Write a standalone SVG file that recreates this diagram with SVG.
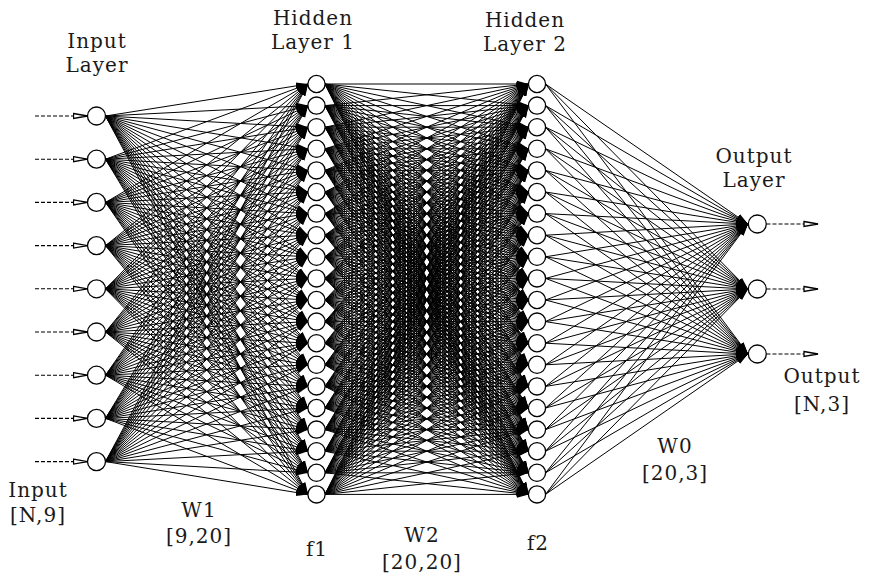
<svg xmlns="http://www.w3.org/2000/svg" width="870" height="575" viewBox="0 0 870 575">
<style>
.t{font-family:"DejaVu Serif","Liberation Serif",serif;font-size:20px;letter-spacing:1px;text-anchor:middle;fill:#1a1a1a}
.e path{fill:none;stroke:#000;stroke-width:1;marker-end:url(#ah)}
.d line{stroke:#000;stroke-width:1.1;stroke-dasharray:4 2;marker-end:url(#oa)}
.n circle{fill:#fff;stroke:#000;stroke-width:1.3}
</style>
<defs>
<marker id="ah" markerUnits="userSpaceOnUse" viewBox="0 0 13 9" markerWidth="13" markerHeight="9" refX="12" refY="4.5" orient="auto"><path d="M0 1L12 4.5L0 8z" fill="#000"/></marker>
<marker id="oa" markerUnits="userSpaceOnUse" viewBox="0 0 16 8" markerWidth="16" markerHeight="8" refX="15" refY="4" orient="auto"><path d="M1 1.5L15 4L1 6.5z" fill="#fff" stroke="#000" stroke-width="1.3"/></marker>
</defs>
<rect width="870" height="575" fill="#fff"/>
<g id="connectors">
<g class="e" id="w1">
<path d="M105.5 116L308 84"/><path d="M105.5 116L308 105.6"/><path d="M105.5 116L308 127.2"/><path d="M105.5 116L308 148.8"/><path d="M105.5 116L308 170.4"/><path d="M105.5 116L308 192"/><path d="M105.5 116L308 213.6"/><path d="M105.5 116L308 235.2"/><path d="M105.5 116L308 256.8"/><path d="M105.5 116L308 278.4"/><path d="M105.5 116L308 300"/><path d="M105.5 116L308 321.6"/><path d="M105.5 116L308 343.2"/><path d="M105.5 116L308 364.8"/><path d="M105.5 116L308 386.4"/><path d="M105.5 116L308 408"/><path d="M105.5 116L308 429.6"/><path d="M105.5 116L308 451.2"/><path d="M105.5 116L308 472.8"/><path d="M105.5 116L308 494.4"/>
<path d="M105.5 159.2L308 84"/><path d="M105.5 159.2L308 105.6"/><path d="M105.5 159.2L308 127.2"/><path d="M105.5 159.2L308 148.8"/><path d="M105.5 159.2L308 170.4"/><path d="M105.5 159.2L308 192"/><path d="M105.5 159.2L308 213.6"/><path d="M105.5 159.2L308 235.2"/><path d="M105.5 159.2L308 256.8"/><path d="M105.5 159.2L308 278.4"/><path d="M105.5 159.2L308 300"/><path d="M105.5 159.2L308 321.6"/><path d="M105.5 159.2L308 343.2"/><path d="M105.5 159.2L308 364.8"/><path d="M105.5 159.2L308 386.4"/><path d="M105.5 159.2L308 408"/><path d="M105.5 159.2L308 429.6"/><path d="M105.5 159.2L308 451.2"/><path d="M105.5 159.2L308 472.8"/><path d="M105.5 159.2L308 494.4"/>
<path d="M105.5 202.4L308 84"/><path d="M105.5 202.4L308 105.6"/><path d="M105.5 202.4L308 127.2"/><path d="M105.5 202.4L308 148.8"/><path d="M105.5 202.4L308 170.4"/><path d="M105.5 202.4L308 192"/><path d="M105.5 202.4L308 213.6"/><path d="M105.5 202.4L308 235.2"/><path d="M105.5 202.4L308 256.8"/><path d="M105.5 202.4L308 278.4"/><path d="M105.5 202.4L308 300"/><path d="M105.5 202.4L308 321.6"/><path d="M105.5 202.4L308 343.2"/><path d="M105.5 202.4L308 364.8"/><path d="M105.5 202.4L308 386.4"/><path d="M105.5 202.4L308 408"/><path d="M105.5 202.4L308 429.6"/><path d="M105.5 202.4L308 451.2"/><path d="M105.5 202.4L308 472.8"/><path d="M105.5 202.4L308 494.4"/>
<path d="M105.5 245.6L308 84"/><path d="M105.5 245.6L308 105.6"/><path d="M105.5 245.6L308 127.2"/><path d="M105.5 245.6L308 148.8"/><path d="M105.5 245.6L308 170.4"/><path d="M105.5 245.6L308 192"/><path d="M105.5 245.6L308 213.6"/><path d="M105.5 245.6L308 235.2"/><path d="M105.5 245.6L308 256.8"/><path d="M105.5 245.6L308 278.4"/><path d="M105.5 245.6L308 300"/><path d="M105.5 245.6L308 321.6"/><path d="M105.5 245.6L308 343.2"/><path d="M105.5 245.6L308 364.8"/><path d="M105.5 245.6L308 386.4"/><path d="M105.5 245.6L308 408"/><path d="M105.5 245.6L308 429.6"/><path d="M105.5 245.6L308 451.2"/><path d="M105.5 245.6L308 472.8"/><path d="M105.5 245.6L308 494.4"/>
<path d="M105.5 288.8L308 84"/><path d="M105.5 288.8L308 105.6"/><path d="M105.5 288.8L308 127.2"/><path d="M105.5 288.8L308 148.8"/><path d="M105.5 288.8L308 170.4"/><path d="M105.5 288.8L308 192"/><path d="M105.5 288.8L308 213.6"/><path d="M105.5 288.8L308 235.2"/><path d="M105.5 288.8L308 256.8"/><path d="M105.5 288.8L308 278.4"/><path d="M105.5 288.8L308 300"/><path d="M105.5 288.8L308 321.6"/><path d="M105.5 288.8L308 343.2"/><path d="M105.5 288.8L308 364.8"/><path d="M105.5 288.8L308 386.4"/><path d="M105.5 288.8L308 408"/><path d="M105.5 288.8L308 429.6"/><path d="M105.5 288.8L308 451.2"/><path d="M105.5 288.8L308 472.8"/><path d="M105.5 288.8L308 494.4"/>
<path d="M105.5 332L308 84"/><path d="M105.5 332L308 105.6"/><path d="M105.5 332L308 127.2"/><path d="M105.5 332L308 148.8"/><path d="M105.5 332L308 170.4"/><path d="M105.5 332L308 192"/><path d="M105.5 332L308 213.6"/><path d="M105.5 332L308 235.2"/><path d="M105.5 332L308 256.8"/><path d="M105.5 332L308 278.4"/><path d="M105.5 332L308 300"/><path d="M105.5 332L308 321.6"/><path d="M105.5 332L308 343.2"/><path d="M105.5 332L308 364.8"/><path d="M105.5 332L308 386.4"/><path d="M105.5 332L308 408"/><path d="M105.5 332L308 429.6"/><path d="M105.5 332L308 451.2"/><path d="M105.5 332L308 472.8"/><path d="M105.5 332L308 494.4"/>
<path d="M105.5 375.2L308 84"/><path d="M105.5 375.2L308 105.6"/><path d="M105.5 375.2L308 127.2"/><path d="M105.5 375.2L308 148.8"/><path d="M105.5 375.2L308 170.4"/><path d="M105.5 375.2L308 192"/><path d="M105.5 375.2L308 213.6"/><path d="M105.5 375.2L308 235.2"/><path d="M105.5 375.2L308 256.8"/><path d="M105.5 375.2L308 278.4"/><path d="M105.5 375.2L308 300"/><path d="M105.5 375.2L308 321.6"/><path d="M105.5 375.2L308 343.2"/><path d="M105.5 375.2L308 364.8"/><path d="M105.5 375.2L308 386.4"/><path d="M105.5 375.2L308 408"/><path d="M105.5 375.2L308 429.6"/><path d="M105.5 375.2L308 451.2"/><path d="M105.5 375.2L308 472.8"/><path d="M105.5 375.2L308 494.4"/>
<path d="M105.5 418.4L308 84"/><path d="M105.5 418.4L308 105.6"/><path d="M105.5 418.4L308 127.2"/><path d="M105.5 418.4L308 148.8"/><path d="M105.5 418.4L308 170.4"/><path d="M105.5 418.4L308 192"/><path d="M105.5 418.4L308 213.6"/><path d="M105.5 418.4L308 235.2"/><path d="M105.5 418.4L308 256.8"/><path d="M105.5 418.4L308 278.4"/><path d="M105.5 418.4L308 300"/><path d="M105.5 418.4L308 321.6"/><path d="M105.5 418.4L308 343.2"/><path d="M105.5 418.4L308 364.8"/><path d="M105.5 418.4L308 386.4"/><path d="M105.5 418.4L308 408"/><path d="M105.5 418.4L308 429.6"/><path d="M105.5 418.4L308 451.2"/><path d="M105.5 418.4L308 472.8"/><path d="M105.5 418.4L308 494.4"/>
<path d="M105.5 461.6L308 84"/><path d="M105.5 461.6L308 105.6"/><path d="M105.5 461.6L308 127.2"/><path d="M105.5 461.6L308 148.8"/><path d="M105.5 461.6L308 170.4"/><path d="M105.5 461.6L308 192"/><path d="M105.5 461.6L308 213.6"/><path d="M105.5 461.6L308 235.2"/><path d="M105.5 461.6L308 256.8"/><path d="M105.5 461.6L308 278.4"/><path d="M105.5 461.6L308 300"/><path d="M105.5 461.6L308 321.6"/><path d="M105.5 461.6L308 343.2"/><path d="M105.5 461.6L308 364.8"/><path d="M105.5 461.6L308 386.4"/><path d="M105.5 461.6L308 408"/><path d="M105.5 461.6L308 429.6"/><path d="M105.5 461.6L308 451.2"/><path d="M105.5 461.6L308 472.8"/><path d="M105.5 461.6L308 494.4"/>
</g>
<g class="e" id="w2">
<path d="M325 84L528.5 84"/><path d="M325 84L528.5 105.6"/><path d="M325 84L528.5 127.2"/><path d="M325 84L528.5 148.8"/><path d="M325 84L528.5 170.4"/><path d="M325 84L528.5 192"/><path d="M325 84L528.5 213.6"/><path d="M325 84L528.5 235.2"/><path d="M325 84L528.5 256.8"/><path d="M325 84L528.5 278.4"/><path d="M325 84L528.5 300"/><path d="M325 84L528.5 321.6"/><path d="M325 84L528.5 343.2"/><path d="M325 84L528.5 364.8"/><path d="M325 84L528.5 386.4"/><path d="M325 84L528.5 408"/><path d="M325 84L528.5 429.6"/><path d="M325 84L528.5 451.2"/><path d="M325 84L528.5 472.8"/><path d="M325 84L528.5 494.4"/>
<path d="M325 105.6L528.5 84"/><path d="M325 105.6L528.5 105.6"/><path d="M325 105.6L528.5 127.2"/><path d="M325 105.6L528.5 148.8"/><path d="M325 105.6L528.5 170.4"/><path d="M325 105.6L528.5 192"/><path d="M325 105.6L528.5 213.6"/><path d="M325 105.6L528.5 235.2"/><path d="M325 105.6L528.5 256.8"/><path d="M325 105.6L528.5 278.4"/><path d="M325 105.6L528.5 300"/><path d="M325 105.6L528.5 321.6"/><path d="M325 105.6L528.5 343.2"/><path d="M325 105.6L528.5 364.8"/><path d="M325 105.6L528.5 386.4"/><path d="M325 105.6L528.5 408"/><path d="M325 105.6L528.5 429.6"/><path d="M325 105.6L528.5 451.2"/><path d="M325 105.6L528.5 472.8"/><path d="M325 105.6L528.5 494.4"/>
<path d="M325 127.2L528.5 84"/><path d="M325 127.2L528.5 105.6"/><path d="M325 127.2L528.5 127.2"/><path d="M325 127.2L528.5 148.8"/><path d="M325 127.2L528.5 170.4"/><path d="M325 127.2L528.5 192"/><path d="M325 127.2L528.5 213.6"/><path d="M325 127.2L528.5 235.2"/><path d="M325 127.2L528.5 256.8"/><path d="M325 127.2L528.5 278.4"/><path d="M325 127.2L528.5 300"/><path d="M325 127.2L528.5 321.6"/><path d="M325 127.2L528.5 343.2"/><path d="M325 127.2L528.5 364.8"/><path d="M325 127.2L528.5 386.4"/><path d="M325 127.2L528.5 408"/><path d="M325 127.2L528.5 429.6"/><path d="M325 127.2L528.5 451.2"/><path d="M325 127.2L528.5 472.8"/><path d="M325 127.2L528.5 494.4"/>
<path d="M325 148.8L528.5 84"/><path d="M325 148.8L528.5 105.6"/><path d="M325 148.8L528.5 127.2"/><path d="M325 148.8L528.5 148.8"/><path d="M325 148.8L528.5 170.4"/><path d="M325 148.8L528.5 192"/><path d="M325 148.8L528.5 213.6"/><path d="M325 148.8L528.5 235.2"/><path d="M325 148.8L528.5 256.8"/><path d="M325 148.8L528.5 278.4"/><path d="M325 148.8L528.5 300"/><path d="M325 148.8L528.5 321.6"/><path d="M325 148.8L528.5 343.2"/><path d="M325 148.8L528.5 364.8"/><path d="M325 148.8L528.5 386.4"/><path d="M325 148.8L528.5 408"/><path d="M325 148.8L528.5 429.6"/><path d="M325 148.8L528.5 451.2"/><path d="M325 148.8L528.5 472.8"/><path d="M325 148.8L528.5 494.4"/>
<path d="M325 170.4L528.5 84"/><path d="M325 170.4L528.5 105.6"/><path d="M325 170.4L528.5 127.2"/><path d="M325 170.4L528.5 148.8"/><path d="M325 170.4L528.5 170.4"/><path d="M325 170.4L528.5 192"/><path d="M325 170.4L528.5 213.6"/><path d="M325 170.4L528.5 235.2"/><path d="M325 170.4L528.5 256.8"/><path d="M325 170.4L528.5 278.4"/><path d="M325 170.4L528.5 300"/><path d="M325 170.4L528.5 321.6"/><path d="M325 170.4L528.5 343.2"/><path d="M325 170.4L528.5 364.8"/><path d="M325 170.4L528.5 386.4"/><path d="M325 170.4L528.5 408"/><path d="M325 170.4L528.5 429.6"/><path d="M325 170.4L528.5 451.2"/><path d="M325 170.4L528.5 472.8"/><path d="M325 170.4L528.5 494.4"/>
<path d="M325 192L528.5 84"/><path d="M325 192L528.5 105.6"/><path d="M325 192L528.5 127.2"/><path d="M325 192L528.5 148.8"/><path d="M325 192L528.5 170.4"/><path d="M325 192L528.5 192"/><path d="M325 192L528.5 213.6"/><path d="M325 192L528.5 235.2"/><path d="M325 192L528.5 256.8"/><path d="M325 192L528.5 278.4"/><path d="M325 192L528.5 300"/><path d="M325 192L528.5 321.6"/><path d="M325 192L528.5 343.2"/><path d="M325 192L528.5 364.8"/><path d="M325 192L528.5 386.4"/><path d="M325 192L528.5 408"/><path d="M325 192L528.5 429.6"/><path d="M325 192L528.5 451.2"/><path d="M325 192L528.5 472.8"/><path d="M325 192L528.5 494.4"/>
<path d="M325 213.6L528.5 84"/><path d="M325 213.6L528.5 105.6"/><path d="M325 213.6L528.5 127.2"/><path d="M325 213.6L528.5 148.8"/><path d="M325 213.6L528.5 170.4"/><path d="M325 213.6L528.5 192"/><path d="M325 213.6L528.5 213.6"/><path d="M325 213.6L528.5 235.2"/><path d="M325 213.6L528.5 256.8"/><path d="M325 213.6L528.5 278.4"/><path d="M325 213.6L528.5 300"/><path d="M325 213.6L528.5 321.6"/><path d="M325 213.6L528.5 343.2"/><path d="M325 213.6L528.5 364.8"/><path d="M325 213.6L528.5 386.4"/><path d="M325 213.6L528.5 408"/><path d="M325 213.6L528.5 429.6"/><path d="M325 213.6L528.5 451.2"/><path d="M325 213.6L528.5 472.8"/><path d="M325 213.6L528.5 494.4"/>
<path d="M325 235.2L528.5 84"/><path d="M325 235.2L528.5 105.6"/><path d="M325 235.2L528.5 127.2"/><path d="M325 235.2L528.5 148.8"/><path d="M325 235.2L528.5 170.4"/><path d="M325 235.2L528.5 192"/><path d="M325 235.2L528.5 213.6"/><path d="M325 235.2L528.5 235.2"/><path d="M325 235.2L528.5 256.8"/><path d="M325 235.2L528.5 278.4"/><path d="M325 235.2L528.5 300"/><path d="M325 235.2L528.5 321.6"/><path d="M325 235.2L528.5 343.2"/><path d="M325 235.2L528.5 364.8"/><path d="M325 235.2L528.5 386.4"/><path d="M325 235.2L528.5 408"/><path d="M325 235.2L528.5 429.6"/><path d="M325 235.2L528.5 451.2"/><path d="M325 235.2L528.5 472.8"/><path d="M325 235.2L528.5 494.4"/>
<path d="M325 256.8L528.5 84"/><path d="M325 256.8L528.5 105.6"/><path d="M325 256.8L528.5 127.2"/><path d="M325 256.8L528.5 148.8"/><path d="M325 256.8L528.5 170.4"/><path d="M325 256.8L528.5 192"/><path d="M325 256.8L528.5 213.6"/><path d="M325 256.8L528.5 235.2"/><path d="M325 256.8L528.5 256.8"/><path d="M325 256.8L528.5 278.4"/><path d="M325 256.8L528.5 300"/><path d="M325 256.8L528.5 321.6"/><path d="M325 256.8L528.5 343.2"/><path d="M325 256.8L528.5 364.8"/><path d="M325 256.8L528.5 386.4"/><path d="M325 256.8L528.5 408"/><path d="M325 256.8L528.5 429.6"/><path d="M325 256.8L528.5 451.2"/><path d="M325 256.8L528.5 472.8"/><path d="M325 256.8L528.5 494.4"/>
<path d="M325 278.4L528.5 84"/><path d="M325 278.4L528.5 105.6"/><path d="M325 278.4L528.5 127.2"/><path d="M325 278.4L528.5 148.8"/><path d="M325 278.4L528.5 170.4"/><path d="M325 278.4L528.5 192"/><path d="M325 278.4L528.5 213.6"/><path d="M325 278.4L528.5 235.2"/><path d="M325 278.4L528.5 256.8"/><path d="M325 278.4L528.5 278.4"/><path d="M325 278.4L528.5 300"/><path d="M325 278.4L528.5 321.6"/><path d="M325 278.4L528.5 343.2"/><path d="M325 278.4L528.5 364.8"/><path d="M325 278.4L528.5 386.4"/><path d="M325 278.4L528.5 408"/><path d="M325 278.4L528.5 429.6"/><path d="M325 278.4L528.5 451.2"/><path d="M325 278.4L528.5 472.8"/><path d="M325 278.4L528.5 494.4"/>
<path d="M325 300L528.5 84"/><path d="M325 300L528.5 105.6"/><path d="M325 300L528.5 127.2"/><path d="M325 300L528.5 148.8"/><path d="M325 300L528.5 170.4"/><path d="M325 300L528.5 192"/><path d="M325 300L528.5 213.6"/><path d="M325 300L528.5 235.2"/><path d="M325 300L528.5 256.8"/><path d="M325 300L528.5 278.4"/><path d="M325 300L528.5 300"/><path d="M325 300L528.5 321.6"/><path d="M325 300L528.5 343.2"/><path d="M325 300L528.5 364.8"/><path d="M325 300L528.5 386.4"/><path d="M325 300L528.5 408"/><path d="M325 300L528.5 429.6"/><path d="M325 300L528.5 451.2"/><path d="M325 300L528.5 472.8"/><path d="M325 300L528.5 494.4"/>
<path d="M325 321.6L528.5 84"/><path d="M325 321.6L528.5 105.6"/><path d="M325 321.6L528.5 127.2"/><path d="M325 321.6L528.5 148.8"/><path d="M325 321.6L528.5 170.4"/><path d="M325 321.6L528.5 192"/><path d="M325 321.6L528.5 213.6"/><path d="M325 321.6L528.5 235.2"/><path d="M325 321.6L528.5 256.8"/><path d="M325 321.6L528.5 278.4"/><path d="M325 321.6L528.5 300"/><path d="M325 321.6L528.5 321.6"/><path d="M325 321.6L528.5 343.2"/><path d="M325 321.6L528.5 364.8"/><path d="M325 321.6L528.5 386.4"/><path d="M325 321.6L528.5 408"/><path d="M325 321.6L528.5 429.6"/><path d="M325 321.6L528.5 451.2"/><path d="M325 321.6L528.5 472.8"/><path d="M325 321.6L528.5 494.4"/>
<path d="M325 343.2L528.5 84"/><path d="M325 343.2L528.5 105.6"/><path d="M325 343.2L528.5 127.2"/><path d="M325 343.2L528.5 148.8"/><path d="M325 343.2L528.5 170.4"/><path d="M325 343.2L528.5 192"/><path d="M325 343.2L528.5 213.6"/><path d="M325 343.2L528.5 235.2"/><path d="M325 343.2L528.5 256.8"/><path d="M325 343.2L528.5 278.4"/><path d="M325 343.2L528.5 300"/><path d="M325 343.2L528.5 321.6"/><path d="M325 343.2L528.5 343.2"/><path d="M325 343.2L528.5 364.8"/><path d="M325 343.2L528.5 386.4"/><path d="M325 343.2L528.5 408"/><path d="M325 343.2L528.5 429.6"/><path d="M325 343.2L528.5 451.2"/><path d="M325 343.2L528.5 472.8"/><path d="M325 343.2L528.5 494.4"/>
<path d="M325 364.8L528.5 84"/><path d="M325 364.8L528.5 105.6"/><path d="M325 364.8L528.5 127.2"/><path d="M325 364.8L528.5 148.8"/><path d="M325 364.8L528.5 170.4"/><path d="M325 364.8L528.5 192"/><path d="M325 364.8L528.5 213.6"/><path d="M325 364.8L528.5 235.2"/><path d="M325 364.8L528.5 256.8"/><path d="M325 364.8L528.5 278.4"/><path d="M325 364.8L528.5 300"/><path d="M325 364.8L528.5 321.6"/><path d="M325 364.8L528.5 343.2"/><path d="M325 364.8L528.5 364.8"/><path d="M325 364.8L528.5 386.4"/><path d="M325 364.8L528.5 408"/><path d="M325 364.8L528.5 429.6"/><path d="M325 364.8L528.5 451.2"/><path d="M325 364.8L528.5 472.8"/><path d="M325 364.8L528.5 494.4"/>
<path d="M325 386.4L528.5 84"/><path d="M325 386.4L528.5 105.6"/><path d="M325 386.4L528.5 127.2"/><path d="M325 386.4L528.5 148.8"/><path d="M325 386.4L528.5 170.4"/><path d="M325 386.4L528.5 192"/><path d="M325 386.4L528.5 213.6"/><path d="M325 386.4L528.5 235.2"/><path d="M325 386.4L528.5 256.8"/><path d="M325 386.4L528.5 278.4"/><path d="M325 386.4L528.5 300"/><path d="M325 386.4L528.5 321.6"/><path d="M325 386.4L528.5 343.2"/><path d="M325 386.4L528.5 364.8"/><path d="M325 386.4L528.5 386.4"/><path d="M325 386.4L528.5 408"/><path d="M325 386.4L528.5 429.6"/><path d="M325 386.4L528.5 451.2"/><path d="M325 386.4L528.5 472.8"/><path d="M325 386.4L528.5 494.4"/>
<path d="M325 408L528.5 84"/><path d="M325 408L528.5 105.6"/><path d="M325 408L528.5 127.2"/><path d="M325 408L528.5 148.8"/><path d="M325 408L528.5 170.4"/><path d="M325 408L528.5 192"/><path d="M325 408L528.5 213.6"/><path d="M325 408L528.5 235.2"/><path d="M325 408L528.5 256.8"/><path d="M325 408L528.5 278.4"/><path d="M325 408L528.5 300"/><path d="M325 408L528.5 321.6"/><path d="M325 408L528.5 343.2"/><path d="M325 408L528.5 364.8"/><path d="M325 408L528.5 386.4"/><path d="M325 408L528.5 408"/><path d="M325 408L528.5 429.6"/><path d="M325 408L528.5 451.2"/><path d="M325 408L528.5 472.8"/><path d="M325 408L528.5 494.4"/>
<path d="M325 429.6L528.5 84"/><path d="M325 429.6L528.5 105.6"/><path d="M325 429.6L528.5 127.2"/><path d="M325 429.6L528.5 148.8"/><path d="M325 429.6L528.5 170.4"/><path d="M325 429.6L528.5 192"/><path d="M325 429.6L528.5 213.6"/><path d="M325 429.6L528.5 235.2"/><path d="M325 429.6L528.5 256.8"/><path d="M325 429.6L528.5 278.4"/><path d="M325 429.6L528.5 300"/><path d="M325 429.6L528.5 321.6"/><path d="M325 429.6L528.5 343.2"/><path d="M325 429.6L528.5 364.8"/><path d="M325 429.6L528.5 386.4"/><path d="M325 429.6L528.5 408"/><path d="M325 429.6L528.5 429.6"/><path d="M325 429.6L528.5 451.2"/><path d="M325 429.6L528.5 472.8"/><path d="M325 429.6L528.5 494.4"/>
<path d="M325 451.2L528.5 84"/><path d="M325 451.2L528.5 105.6"/><path d="M325 451.2L528.5 127.2"/><path d="M325 451.2L528.5 148.8"/><path d="M325 451.2L528.5 170.4"/><path d="M325 451.2L528.5 192"/><path d="M325 451.2L528.5 213.6"/><path d="M325 451.2L528.5 235.2"/><path d="M325 451.2L528.5 256.8"/><path d="M325 451.2L528.5 278.4"/><path d="M325 451.2L528.5 300"/><path d="M325 451.2L528.5 321.6"/><path d="M325 451.2L528.5 343.2"/><path d="M325 451.2L528.5 364.8"/><path d="M325 451.2L528.5 386.4"/><path d="M325 451.2L528.5 408"/><path d="M325 451.2L528.5 429.6"/><path d="M325 451.2L528.5 451.2"/><path d="M325 451.2L528.5 472.8"/><path d="M325 451.2L528.5 494.4"/>
<path d="M325 472.8L528.5 84"/><path d="M325 472.8L528.5 105.6"/><path d="M325 472.8L528.5 127.2"/><path d="M325 472.8L528.5 148.8"/><path d="M325 472.8L528.5 170.4"/><path d="M325 472.8L528.5 192"/><path d="M325 472.8L528.5 213.6"/><path d="M325 472.8L528.5 235.2"/><path d="M325 472.8L528.5 256.8"/><path d="M325 472.8L528.5 278.4"/><path d="M325 472.8L528.5 300"/><path d="M325 472.8L528.5 321.6"/><path d="M325 472.8L528.5 343.2"/><path d="M325 472.8L528.5 364.8"/><path d="M325 472.8L528.5 386.4"/><path d="M325 472.8L528.5 408"/><path d="M325 472.8L528.5 429.6"/><path d="M325 472.8L528.5 451.2"/><path d="M325 472.8L528.5 472.8"/><path d="M325 472.8L528.5 494.4"/>
<path d="M325 494.4L528.5 84"/><path d="M325 494.4L528.5 105.6"/><path d="M325 494.4L528.5 127.2"/><path d="M325 494.4L528.5 148.8"/><path d="M325 494.4L528.5 170.4"/><path d="M325 494.4L528.5 192"/><path d="M325 494.4L528.5 213.6"/><path d="M325 494.4L528.5 235.2"/><path d="M325 494.4L528.5 256.8"/><path d="M325 494.4L528.5 278.4"/><path d="M325 494.4L528.5 300"/><path d="M325 494.4L528.5 321.6"/><path d="M325 494.4L528.5 343.2"/><path d="M325 494.4L528.5 364.8"/><path d="M325 494.4L528.5 386.4"/><path d="M325 494.4L528.5 408"/><path d="M325 494.4L528.5 429.6"/><path d="M325 494.4L528.5 451.2"/><path d="M325 494.4L528.5 472.8"/><path d="M325 494.4L528.5 494.4"/>
</g>
<g class="e" id="w0">
<path d="M545.5 84L748 224"/><path d="M545.5 84L748 289"/><path d="M545.5 84L748 354"/>
<path d="M545.5 105.6L748 224"/><path d="M545.5 105.6L748 289"/><path d="M545.5 105.6L748 354"/>
<path d="M545.5 127.2L748 224"/><path d="M545.5 127.2L748 289"/><path d="M545.5 127.2L748 354"/>
<path d="M545.5 148.8L748 224"/><path d="M545.5 148.8L748 289"/><path d="M545.5 148.8L748 354"/>
<path d="M545.5 170.4L748 224"/><path d="M545.5 170.4L748 289"/><path d="M545.5 170.4L748 354"/>
<path d="M545.5 192L748 224"/><path d="M545.5 192L748 289"/><path d="M545.5 192L748 354"/>
<path d="M545.5 213.6L748 224"/><path d="M545.5 213.6L748 289"/><path d="M545.5 213.6L748 354"/>
<path d="M545.5 235.2L748 224"/><path d="M545.5 235.2L748 289"/><path d="M545.5 235.2L748 354"/>
<path d="M545.5 256.8L748 224"/><path d="M545.5 256.8L748 289"/><path d="M545.5 256.8L748 354"/>
<path d="M545.5 278.4L748 224"/><path d="M545.5 278.4L748 289"/><path d="M545.5 278.4L748 354"/>
<path d="M545.5 300L748 224"/><path d="M545.5 300L748 289"/><path d="M545.5 300L748 354"/>
<path d="M545.5 321.6L748 224"/><path d="M545.5 321.6L748 289"/><path d="M545.5 321.6L748 354"/>
<path d="M545.5 343.2L748 224"/><path d="M545.5 343.2L748 289"/><path d="M545.5 343.2L748 354"/>
<path d="M545.5 364.8L748 224"/><path d="M545.5 364.8L748 289"/><path d="M545.5 364.8L748 354"/>
<path d="M545.5 386.4L748 224"/><path d="M545.5 386.4L748 289"/><path d="M545.5 386.4L748 354"/>
<path d="M545.5 408L748 224"/><path d="M545.5 408L748 289"/><path d="M545.5 408L748 354"/>
<path d="M545.5 429.6L748 224"/><path d="M545.5 429.6L748 289"/><path d="M545.5 429.6L748 354"/>
<path d="M545.5 451.2L748 224"/><path d="M545.5 451.2L748 289"/><path d="M545.5 451.2L748 354"/>
<path d="M545.5 472.8L748 224"/><path d="M545.5 472.8L748 289"/><path d="M545.5 472.8L748 354"/>
<path d="M545.5 494.4L748 224"/><path d="M545.5 494.4L748 289"/><path d="M545.5 494.4L748 354"/>
</g>
<g class="d" id="io">
<line x1="35" y1="116" x2="87.5" y2="116"/><line x1="35" y1="159.2" x2="87.5" y2="159.2"/><line x1="35" y1="202.4" x2="87.5" y2="202.4"/><line x1="35" y1="245.6" x2="87.5" y2="245.6"/><line x1="35" y1="288.8" x2="87.5" y2="288.8"/><line x1="35" y1="332" x2="87.5" y2="332"/><line x1="35" y1="375.2" x2="87.5" y2="375.2"/><line x1="35" y1="418.4" x2="87.5" y2="418.4"/><line x1="35" y1="461.6" x2="87.5" y2="461.6"/>
<line x1="766.5" y1="224" x2="818" y2="224"/><line x1="766.5" y1="289" x2="818" y2="289"/><line x1="766.5" y1="354" x2="818" y2="354"/>
</g>
</g>
<g class="n" id="input-layer">
<circle cx="96.5" cy="116" r="9"/><circle cx="96.5" cy="159.2" r="9"/><circle cx="96.5" cy="202.4" r="9"/><circle cx="96.5" cy="245.6" r="9"/><circle cx="96.5" cy="288.8" r="9"/><circle cx="96.5" cy="332" r="9"/><circle cx="96.5" cy="375.2" r="9"/><circle cx="96.5" cy="418.4" r="9"/><circle cx="96.5" cy="461.6" r="9"/>
</g>
<g class="n" id="hidden-layer-1">
<circle cx="316.5" cy="84" r="8.6"/><circle cx="316.5" cy="105.6" r="8.6"/><circle cx="316.5" cy="127.2" r="8.6"/><circle cx="316.5" cy="148.8" r="8.6"/><circle cx="316.5" cy="170.4" r="8.6"/><circle cx="316.5" cy="192" r="8.6"/><circle cx="316.5" cy="213.6" r="8.6"/><circle cx="316.5" cy="235.2" r="8.6"/><circle cx="316.5" cy="256.8" r="8.6"/><circle cx="316.5" cy="278.4" r="8.6"/><circle cx="316.5" cy="300" r="8.6"/><circle cx="316.5" cy="321.6" r="8.6"/><circle cx="316.5" cy="343.2" r="8.6"/><circle cx="316.5" cy="364.8" r="8.6"/><circle cx="316.5" cy="386.4" r="8.6"/><circle cx="316.5" cy="408" r="8.6"/><circle cx="316.5" cy="429.6" r="8.6"/><circle cx="316.5" cy="451.2" r="8.6"/><circle cx="316.5" cy="472.8" r="8.6"/><circle cx="316.5" cy="494.4" r="8.6"/>
</g>
<g class="n" id="hidden-layer-2">
<circle cx="537" cy="84" r="8.6"/><circle cx="537" cy="105.6" r="8.6"/><circle cx="537" cy="127.2" r="8.6"/><circle cx="537" cy="148.8" r="8.6"/><circle cx="537" cy="170.4" r="8.6"/><circle cx="537" cy="192" r="8.6"/><circle cx="537" cy="213.6" r="8.6"/><circle cx="537" cy="235.2" r="8.6"/><circle cx="537" cy="256.8" r="8.6"/><circle cx="537" cy="278.4" r="8.6"/><circle cx="537" cy="300" r="8.6"/><circle cx="537" cy="321.6" r="8.6"/><circle cx="537" cy="343.2" r="8.6"/><circle cx="537" cy="364.8" r="8.6"/><circle cx="537" cy="386.4" r="8.6"/><circle cx="537" cy="408" r="8.6"/><circle cx="537" cy="429.6" r="8.6"/><circle cx="537" cy="451.2" r="8.6"/><circle cx="537" cy="472.8" r="8.6"/><circle cx="537" cy="494.4" r="8.6"/>
</g>
<g class="n" id="output-layer">
<circle cx="757.3" cy="224" r="9"/><circle cx="757.3" cy="289" r="9"/><circle cx="757.3" cy="354" r="9"/>
</g>
<g id="labels">
<text class="t" x="97" y="48">Input</text><text class="t" x="97" y="72">Layer</text>
<text class="t" x="313" y="25">Hidden</text><text class="t" x="313" y="49">Layer 1</text>
<text class="t" x="525" y="27">Hidden</text><text class="t" x="525" y="51">Layer 2</text>
<text class="t" x="754" y="163">Output</text><text class="t" x="754" y="187">Layer</text>
<text class="t" x="38" y="497">Input</text><text class="t" x="38" y="522">[N,9]</text>
<text class="t" x="199" y="517">W1</text><text class="t" x="199" y="543">[9,20]</text>
<text class="t" x="317" y="556">f1</text>
<text class="t" x="422" y="542">W2</text><text class="t" x="422" y="569">[20,20]</text>
<text class="t" x="538" y="550">f2</text>
<text class="t" x="675" y="453">W0</text><text class="t" x="675" y="480">[20,3]</text>
<text class="t" x="822" y="383">Output</text><text class="t" x="822" y="411">[N,3]</text>
</g>
</svg>
